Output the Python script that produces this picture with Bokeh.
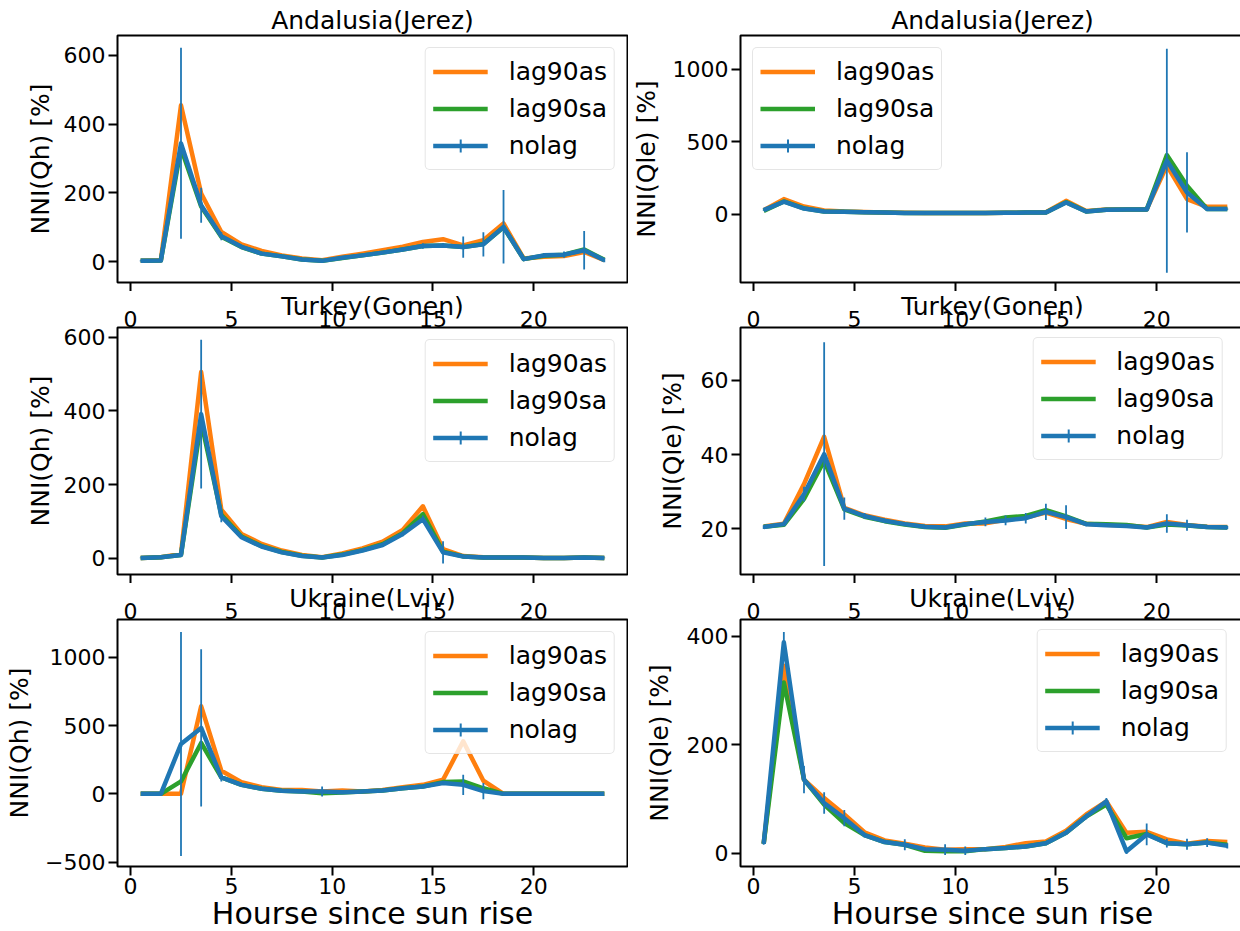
import numpy as np
from bokeh.plotting import figure
from bokeh.layouts import row, column
from bokeh.models import (ColumnDataSource, Range1d, FixedTicker, LinearAxis,
                          Legend, LegendItem, Title)
from bokeh.embed import file_html
from bokeh.resources import INLINE

# ---------------- data ----------------
hours = [0.5, 1.5, 2.5, 3.5, 4.5, 5.5, 6.5, 7.5, 8.5, 9.5, 10.5, 11.5,
         12.5, 13.5, 14.5, 15.5, 16.5, 17.5, 18.5, 19.5, 20.5, 21.5, 22.5, 23.5]
x_ticks = [0, 5, 10, 15, 20]
series_labels = ["lag90as", "lag90sa", "nolag"]
x_label = "Hourse since sun rise"

# Andalusia(Jerez) - NNI(Qh)
and_qh_lag90as = [2, 4, 455, 198, 86, 50, 31, 18, 9, 4, 14, 23, 33, 43, 57, 65, 47, 62, 111, 9, 14, 16, 28, 4]
and_qh_lag90sa = [2, 3, 330, 160, 72, 42, 23, 15, 6, 2, 10, 18, 26, 35, 45, 47, 42, 51, 100, 7, 17, 20, 35, 5]
and_qh_nolag = [2, 3, 344, 164, 74, 43, 23, 15, 6, 2, 11, 18, 26, 35, 45, 47, 42, 50, 101, 7, 18, 20, 33, 4]
and_qh_err = [2, 2, 278, 51, 12, 5, 4, 3, 2, 2, 2, 3, 4, 5, 8, 7, 31, 35, 107, 4, 7, 9, 56, 6]

# Andalusia(Jerez) - NNI(Qle)
and_qle_lag90as = [30, 106, 55, 28, 20, 17, 14, 12, 11, 10, 10, 11, 12, 13, 15, 94, 24, 34, 35, 35, 337, 106, 53, 53]
and_qle_lag90sa = [25, 90, 42, 21, 18, 16, 13, 11, 10, 10, 10, 11, 12, 13, 14, 85, 21, 32, 34, 34, 410, 198, 37, 37]
and_qle_nolag = [30, 88, 41, 21, 18, 16, 13, 11, 10, 10, 10, 11, 12, 13, 14, 83, 21, 32, 34, 34, 371, 152, 37, 37]
and_qle_err = [4, 6, 4, 3, 2, 2, 2, 2, 2, 2, 2, 2, 2, 2, 2, 6, 3, 3, 3, 3, 772, 277, 4, 4]

# Turkey(Gonen) - NNI(Qh)
tur_qh_lag90as = [1, 3, 12, 505, 132, 66, 39, 21, 9, 3, 13, 27, 45, 77, 141, 25, 6, 3, 2, 2, 1, 1, 2, 1]
tur_qh_lag90sa = [1, 3, 9, 370, 118, 59, 33, 17, 7, 2, 10, 22, 38, 68, 120, 18, 5, 2, 2, 2, 1, 1, 2, 1]
tur_qh_nolag = [1, 3, 9, 391, 114, 57, 32, 16, 6, 2, 9, 21, 36, 66, 106, 16, 5, 2, 2, 2, 1, 1, 2, 1]
tur_qh_err = [1, 1, 2, 202, 16, 5, 3, 2, 1, 1, 2, 3, 4, 6, 10, 30, 2, 1, 1, 1, 1, 1, 1, 1]

# Turkey(Gonen) - NNI(Qle)
tur_qle_lag90as = [20.6, 21.3, 32.0, 44.8, 25.6, 23.6, 22.4, 21.4, 20.7, 20.6, 21.4, 21.4,
                   22.4, 23.0, 24.3, 22.6, 21.3, 21.0, 20.8, 20.4, 21.8, 21.0, 20.5, 20.4]
tur_qle_lag90sa = [20.5, 21.0, 28.0, 38.3, 25.2, 23.2, 22.0, 21.1, 20.4, 20.2, 21.1, 21.9,
                   23.0, 23.4, 25.0, 23.3, 21.3, 21.2, 21.0, 20.3, 21.1, 20.8, 20.4, 20.3]
tur_qle_nolag = [20.4, 21.2, 29.3, 40.1, 25.4, 23.4, 22.1, 21.2, 20.5, 20.3, 21.2, 21.8,
                 22.2, 22.8, 24.5, 23.1, 21.2, 20.9, 20.7, 20.3, 21.4, 20.9, 20.4, 20.3]
tur_qle_err = [0.5, 0.5, 2.0, 30.2, 3.0, 0.8, 0.6, 0.5, 0.4, 0.4, 0.6, 1.2,
               1.3, 1.4, 2.2, 3.2, 0.6, 0.5, 0.5, 0.4, 2.5, 1.5, 0.4, 0.4]

# Ukraine(Lviv) - NNI(Qh)
ukr_qh_lag90as = [0, 0, 0, 642, 169, 86, 49, 29, 29, 17, 25, 17, 29, 49, 66, 103, 385, 96, 0, 0, 0, 0, 0, 0]
ukr_qh_lag90sa = [0, 0, 91, 373, 120, 66, 37, 23, 17, 5, 10, 17, 25, 41, 54, 86, 91, 41, 0, 0, 0, 0, 0, 0]
ukr_qh_nolag = [0, 0, 365, 483, 120, 66, 37, 23, 17, 17, 12, 17, 25, 41, 54, 79, 66, 20, 0, 0, 0, 0, 0, 0]
ukr_qh_err = [0, 0, 821, 576, 30, 5, 4, 3, 3, 37, 3, 3, 3, 4, 5, 8, 74, 60, 0, 0, 0, 0, 0, 0]

# Ukraine(Lviv) - NNI(Qle)
ukr_qle_lag90as = [18, 346, 136, 102, 72, 39, 24, 18, 11, 7, 8, 8, 12, 19, 22, 42, 72, 96, 38, 40, 26, 18, 23, 21]
ukr_qle_lag90sa = [18, 315, 136, 90, 56, 34, 21, 16, 5, 4, 4, 8, 10, 13, 19, 38, 68, 90, 28, 36, 19, 17, 20, 16]
ukr_qle_nolag = [18, 389, 136, 93, 65, 34, 21, 16, 8, 7, 5, 8, 10, 13, 19, 38, 68, 96, 4, 35, 19, 17, 20, 14]
ukr_qle_err = [2, 19, 25, 20, 15, 4, 3, 10, 3, 10, 8, 3, 2, 3, 3, 4, 5, 6, 5, 20, 8, 10, 8, 5]

panels = [
    [dict(title="Andalusia(Jerez)", ylabel="NNI(Qh) [%]", a=and_qh_lag90as, s=and_qh_lag90sa,
          n=and_qh_nolag, e=and_qh_err, yr=(-61, 658), yt=[0, 200, 400, 600], leg="top_right", als=6),
     dict(title="Turkey(Gonen)", ylabel="NNI(Qh) [%]", a=tur_qh_lag90as, s=tur_qh_lag90sa,
          n=tur_qh_nolag, e=tur_qh_err, yr=(-44, 626), yt=[0, 200, 400, 600], leg="top_right", als=6),
     dict(title="Ukraine(Lviv)", ylabel="NNI(Qh) [%]", a=ukr_qh_lag90as, s=ukr_qh_lag90sa,
          n=ukr_qh_nolag, e=ukr_qh_err, yr=(-532, 1277), yt=[-500, 0, 500, 1000], leg="top_right", als=8)],
    [dict(title="Andalusia(Jerez)", ylabel="NNI(Qle) [%]", a=and_qle_lag90as, s=and_qle_lag90sa,
          n=and_qle_nolag, e=and_qle_err, yr=(-469, 1234), yt=[0, 500, 1000], leg="top_left", als=9),
     dict(title="Turkey(Gonen)", ylabel="NNI(Qle) [%]", a=tur_qle_lag90as, s=tur_qle_lag90sa,
          n=tur_qle_nolag, e=tur_qle_err, yr=(7.6, 74.3), yt=[20, 40, 60], leg="top_right", als=11),
     dict(title="Ukraine(Lviv)", ylabel="NNI(Qle) [%]", a=ukr_qle_lag90as, s=ukr_qle_lag90sa,
          n=ukr_qle_nolag, e=ukr_qle_err, yr=(-24, 431), yt=[0, 200, 400], leg="top_right", als=10)],
]

# ---------------- styling / layout ----------------
ORANGE, GREEN, BLUE = "#ff7f0e", "#2ca02c", "#1f77b4"
FONT = "DejaVu Sans"
FRAME_H = 247
col_cfg = [
    dict(fw=510, bl=117, br=1, x_end=24.65, leg_margin=12),
    dict(fw=504, bl=108, br=0, x_end=-0.65 + 504 * 25.3 / 510, leg_margin=10),
]
row_borders = [(35, 9), (36, 9), (36, 58)]


def make_panel(spec, cfg, c, r):
    top, bottom = row_borders[r]
    kw = dict(frame_width=cfg["fw"], frame_height=FRAME_H,
              min_border_left=cfg["bl"], min_border_right=cfg["br"],
              min_border_top=top, min_border_bottom=bottom,
              x_range=Range1d(-0.65, cfg["x_end"]), y_range=Range1d(*spec["yr"]),
              output_backend="svg", toolbar_location=None)
    p = figure(title=spec["title"], **kw)
    p.title.text_font = FONT
    p.title.text_font_size = "25px"
    p.title.text_font_style = "normal"
    p.title.text_color = "black"
    p.title.align = "center"
    # rows 2/3: the title overlaps the tick labels of the panel above, as in the original
    p.title.standoff = 2 if r == 0 else -26

    p.outline_line_color = "black"
    p.outline_line_width = 2
    p.grid.visible = False
    p.background_fill_color = "white"
    p.border_fill_color = "white"

    # x axis (below)
    xa = p.xaxis[0]
    xa.ticker = FixedTicker(ticks=x_ticks)
    xa.axis_line_color = None
    xa.major_tick_out = 9
    xa.major_tick_in = 0
    xa.minor_tick_out = 0
    xa.minor_tick_in = 0
    xa.major_tick_line_width = 2
    xa.major_tick_line_color = "black"
    xa.major_label_text_font = FONT
    xa.major_label_text_font_size = "22px"
    xa.major_label_standoff = 2
    if r < 2:
        xa.major_label_text_color = None   # drawn just above the next panel instead
    else:
        xa.major_label_text_color = "black"
        xl = Title(text=x_label, align="center", vertical_align="top",
                   text_font=FONT, text_font_size="30px", text_font_style="normal",
                   text_color="black", standoff=-2)
        p.add_layout(xl, "below")

    # y axis
    ya = p.yaxis[0]
    ya.ticker = FixedTicker(ticks=spec["yt"])
    ya.axis_line_color = None
    ya.major_tick_out = 9
    ya.major_tick_in = 0
    ya.minor_tick_out = 0
    ya.minor_tick_in = 0
    ya.major_tick_line_width = 2
    ya.major_tick_line_color = "black"
    ya.major_label_text_font = FONT
    ya.major_label_text_font_size = "22px"
    ya.major_label_text_color = "black"
    ya.major_label_standoff = 3
    ya.major_label_overrides = {t: str(t).replace("-", "\u2212") for t in spec["yt"] if t < 0}
    ya.axis_label = spec["ylabel"]
    ya.axis_label_text_font = FONT
    ya.axis_label_text_font_size = "25px"
    ya.axis_label_text_font_style = "normal"
    ya.axis_label_text_color = "black"
    ya.axis_label_standoff = spec["als"]

    # tick labels of the panel above (rows 2 and 3), shown between the panels
    if r > 0:
        top_ax = LinearAxis(ticker=FixedTicker(ticks=x_ticks),
                            axis_line_color=None, major_tick_out=0, major_tick_in=0,
                            minor_tick_out=0, minor_tick_in=0,
                            major_label_text_font=FONT, major_label_text_font_size="22px",
                            major_label_text_color="black", major_label_standoff=1)
        p.add_layout(top_ax, "above")

    src = ColumnDataSource(dict(
        x=hours, a=spec["a"], s=spec["s"], n=spec["n"],
        lo=[v - e for v, e in zip(spec["n"], spec["e"])],
        hi=[v + e for v, e in zip(spec["n"], spec["e"])],
    ))
    r_a = p.line("x", "a", source=src, line_color=ORANGE, line_width=4.5, line_join="round")
    r_s = p.line("x", "s", source=src, line_color=GREEN, line_width=4.5, line_join="round")
    r_n = p.line("x", "n", source=src, line_color=BLUE, line_width=4.5, line_join="round")
    p.segment(x0="x", y0="lo", x1="x", y1="hi", source=src, line_color=BLUE, line_width=1.8)
    # legend proxy for the error-bar tick: mapped through an off-frame range, so it is
    # clipped away in the plot and only shows up in the legend
    p.extra_x_ranges = {"legend_proxy": Range1d(1000, 2000)}
    r_bar = p.scatter("x", "n", source=src, marker="cross", size=25,
                      line_color=BLUE, line_width=2, x_range_name="legend_proxy")

    margin = cfg["leg_margin"] if (c == 1 and spec["leg"] == "top_right") else 12
    legend = Legend(items=[LegendItem(label=series_labels[0], renderers=[r_a]),
                           LegendItem(label=series_labels[1], renderers=[r_s]),
                           LegendItem(label=series_labels[2], renderers=[r_n, r_bar])],
                    location=spec["leg"], margin=margin,
                    label_text_font=FONT, label_text_font_size="25px", label_text_color="black",
                    glyph_width=55, glyph_height=33, label_height=33, spacing=4,
                    padding=7, label_standoff=21,
                    border_line_color="#cccccc", border_line_width=1.5,
                    background_fill_color="white", background_fill_alpha=0.8)
    if "border_radius" in Legend.properties():
        legend.border_radius = 5
    p.add_layout(legend)
    return p


cols = []
for c in range(2):
    figs = [make_panel(panels[c][r], col_cfg[c], c, r) for r in range(3)]
    cols.append(column(*figs, spacing=0))

layout = row(*cols, spacing=0)
open("out.html", "w").write(file_html(layout, INLINE))
